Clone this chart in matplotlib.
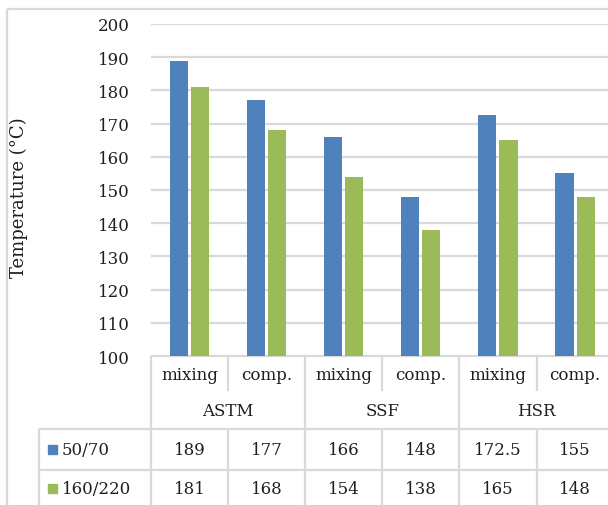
import matplotlib
matplotlib.use("Agg")
import matplotlib.pyplot as plt

plt.rcParams['font.family'] = ['DejaVu Serif']

groups = ['ASTM', 'SSF', 'HSR']
stages = ['mixing', 'comp.', 'mixing', 'comp.', 'mixing', 'comp.']
series_names = ['50/70', '160/220']
values_5070 = [189, 177, 166, 148, 172.5, 155]
values_160220 = [181, 168, 154, 138, 165, 148]
value_labels_5070 = ['189', '177', '166', '148', '172.5', '155']
value_labels_160220 = ['181', '168', '154', '138', '165', '148']
yticks = [100, 110, 120, 130, 140, 150, 160, 170, 180, 190, 200]

colors = ['#4f81bd', '#9bbb59']
grid_c = '#d9d9d9'
txt_c = '#1f1f1f'
fs = 12

W, H = 608, 506
fig = plt.figure(figsize=(W / 100, H / 100), dpi=100)

# plot area in pixels
left, top, bottom = 151, 25, 357
colw = 77.1
ncol = len(stages)
right = left + colw * ncol

ax = fig.add_axes([left / W, 1 - bottom / H, (right - left) / W, (bottom - top) / H])
x = range(ncol)
bw = 0.235
ax.bar([i - 0.137 for i in x], values_5070, bw, color=colors[0], zorder=3)
ax.bar([i + 0.137 for i in x], values_160220, bw, color=colors[1], zorder=3)
ax.set_xlim(-0.5, ncol - 0.5)
ax.set_ylim(100, 200)
ax.set_yticks(yticks)
ax.set_yticklabels([str(t) for t in yticks], fontsize=fs, color=txt_c)
ax.tick_params(axis='y', length=0, pad=15)
ax.set_xticks([])
for s in ax.spines.values():
    s.set_visible(False)
ax.yaxis.grid(True, color=grid_c, linewidth=1.6, zorder=0)
ax.set_axisbelow(True)
ax.set_ylabel('Temperature (°C)', fontsize=13, color=txt_c)
ax.yaxis.set_label_coords((28 - left) / (right - left), 0.48)

# overlay in pixel coordinates for the data table and border
ov = fig.add_axes([0, 0, 1, 1], zorder=-1)
ov.set_xlim(0, W)
ov.set_ylim(H, 0)
ov.axis('off')
ov.patch.set_alpha(0)

def hline(y, x0, x1):
    ov.plot([x0, x1], [y, y], color=grid_c, lw=1.6, solid_capstyle='butt')

def vline(xp, y0, y1):
    ov.plot([xp, xp], [y0, y1], color=grid_c, lw=1.6, solid_capstyle='butt')

# outer chart border
hline(10, 7, W + 5)
vline(7, 10, H + 5)

tab_left = 39
row_sub, row_grp, row1, row2 = 392, 430, 471, H + 5
hline(bottom, left, W + 5)
hline(row_grp, tab_left, W + 5)
hline(row1, tab_left, W + 5)
vline(tab_left, row_grp, row2)
for i in range(ncol + 1):
    xp = left + colw * i
    if i % 2 == 0:
        vline(xp, bottom, row2)
    else:
        vline(xp, bottom, row_sub)
        vline(xp, row_grp, row2)

for i, s in enumerate(stages):
    cx = left + colw * (i + 0.5)
    ov.text(cx, 375, s, ha='center', va='center', fontsize=fs, color=txt_c)
    ov.text(cx, 451, value_labels_5070[i], ha='center', va='center', fontsize=fs, color=txt_c)
    ov.text(cx, 490, value_labels_160220[i], ha='center', va='center', fontsize=fs, color=txt_c)
for g, name in enumerate(groups):
    cx = left + colw * (2 * g + 1)
    ov.text(cx, 412, name, ha='center', va='center', fontsize=fs, color=txt_c)

for k, (name, ry) in enumerate(zip(series_names, [451, 490])):
    ov.add_patch(plt.Rectangle((48, ry - 5), 9, 9, color=colors[k]))
    ov.text(62, ry, name, ha='left', va='center', fontsize=fs, color=txt_c)

fig.savefig('out.png', dpi=100)
